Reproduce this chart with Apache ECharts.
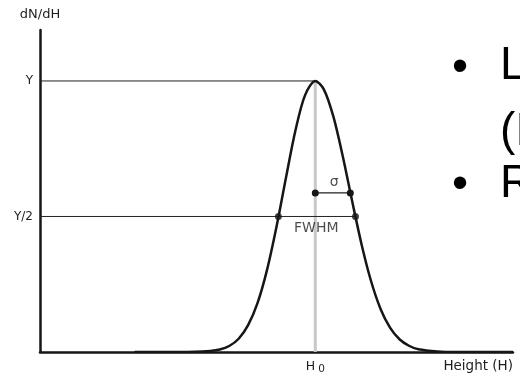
<!DOCTYPE html>
<html>
<head>
<meta charset="utf-8">
<script src="https://cdn.jsdelivr.net/npm/echarts@6/dist/echarts.min.js"></script>
<style>html,body{margin:0;padding:0;background:#fff;}#c{width:520px;height:375px;}</style>
</head>
<body>
<div id="c"></div>
<script>
// Curve samples (H in arbitrary units 0..100, dN/dH relative to peak Y = 1)
const heights = [20, 30, 36, 38, 40, 42, 44, 46, 48, 50, 52, 54, 56, 58.2, 60, 62, 64, 66, 68, 70, 72, 74, 76, 78, 80, 84, 88, 100];
const density = [0, 0, 0.004, 0.009, 0.022, 0.049, 0.099, 0.181, 0.303, 0.462, 0.643, 0.817, 0.946, 1, 0.969, 0.870, 0.723, 0.556, 0.396, 0.261, 0.159, 0.090, 0.047, 0.023, 0.010, 0.002, 0, 0];
const peakH = 58.2;          // H0
const peakY = 1;             // Y
const halfY = 0.5;           // Y/2
const fwhmH = [50.4, 66.7];  // half-maximum crossings
const sigmaY = 0.587;        // level of the sigma marker
const sigmaH = 65.6;         // right end of sigma marker
const yTickLabels = {0.5: 'Y/2', 1: 'Y'};
const slideLines = ['L', '(I', 'R'];

const chart = echarts.init(document.getElementById('c'));
const ink = '#161616';
const txt = '#1e1e1e';
const font = 'DejaVu Sans';

chart.setOption({
  animation: false,
  backgroundColor: '#fff',
  textStyle: {fontFamily: font},
  grid: {left: 40, right: 7, top: 30, bottom: 23},
  xAxis: {
    type: 'value', min: 0, max: 100,
    axisLine: {show: true, lineStyle: {color: ink, width: 2.5}},
    axisTick: {show: false},
    splitLine: {show: false},
    axisLabel: {
      customValues: [peakH],
      margin: 7,
      formatter: () => '{h|H}{s|0}',
      rich: {
        h: {fontFamily: font, fontSize: 12.5, color: txt},
        s: {fontFamily: font, fontSize: 10.5, color: txt, padding: [5, 0, 0, 3]}
      }
    },
    name: 'Height (H)',
    nameLocation: 'end',
    nameGap: 0,
    nameTextStyle: {fontFamily: font, fontSize: 13.5, color: txt, align: 'right', verticalAlign: 'top', padding: [7, 0, 0, 0]}
  },
  yAxis: {
    type: 'value', min: 0, max: 1.188,
    axisLine: {show: true, lineStyle: {color: ink, width: 2.5}},
    axisTick: {show: false},
    splitLine: {show: false},
    axisLabel: {
      customValues: [halfY, peakY],
      margin: 7,
      fontFamily: font, fontSize: 12, color: txt,
      formatter: v => yTickLabels[v] || ''
    },
    name: 'dN/dH',
    nameLocation: 'end',
    nameGap: 9,
    nameTextStyle: {fontFamily: font, fontSize: 13, color: txt, align: 'center'}
  },
  series: [
    {
      type: 'line', data: [[peakH, 0], [peakH, peakY]],
      showSymbol: false, lineStyle: {color: '#c8c8c8', width: 3}, z: 1
    },
    {
      type: 'line', data: [[0, peakY], [peakH, peakY]],
      showSymbol: false, lineStyle: {color: '#222', width: 1}, z: 2
    },
    {
      type: 'line', data: [[0, halfY], [fwhmH[1], halfY]],
      showSymbol: false, lineStyle: {color: '#222', width: 1}, z: 2
    },
    {
      type: 'line', data: heights.map((h, i) => [h, density[i]]),
      smooth: 0.3, showSymbol: false, lineStyle: {color: ink, width: 2.5}, z: 3
    },
    {
      type: 'line', data: [[peakH, sigmaY], [sigmaH, sigmaY]],
      symbol: 'circle', symbolSize: 7, showSymbol: true,
      itemStyle: {color: ink}, lineStyle: {color: '#222', width: 1.2}, z: 4,
      label: {show: false}
    },
    {
      type: 'scatter', data: fwhmH.map(h => [h, halfY]),
      symbol: 'circle', symbolSize: 7, itemStyle: {color: ink}, z: 4
    },
    {
      type: 'scatter', symbolSize: 0, silent: true, z: 5,
      data: [
        {value: [(peakH + sigmaH) / 2 + 0.3, sigmaY], label: {formatter: 'σ', position: 'top', distance: 4, fontSize: 14}},
        {value: [peakH + 0.2, halfY], label: {formatter: 'FWHM', position: 'bottom', distance: 5, fontSize: 14}}
      ],
      label: {show: true, color: txt, fontFamily: font}
    }
  ],
  graphic: [
    {type: 'text', style: {text: '•', x: 460, y: 68, font: '46px "Liberation Sans"', fill: '#000', textAlign: 'center', textVerticalAlign: 'middle'}},
    {type: 'text', style: {text: slideLines[0], x: 500, y: 66, font: '46px "Liberation Sans"', fill: '#000', textAlign: 'left', textVerticalAlign: 'middle'}},
    {type: 'text', style: {text: slideLines[1], x: 500, y: 132, font: '46px "Liberation Sans"', fill: '#000', textAlign: 'left', textVerticalAlign: 'middle'}},
    {type: 'text', style: {text: '•', x: 460, y: 185, font: '46px "Liberation Sans"', fill: '#000', textAlign: 'center', textVerticalAlign: 'middle'}},
    {type: 'text', style: {text: slideLines[2], x: 500, y: 184, font: '46px "Liberation Sans"', fill: '#000', textAlign: 'left', textVerticalAlign: 'middle'}}
  ]
});
</script>
</body>
</html>
